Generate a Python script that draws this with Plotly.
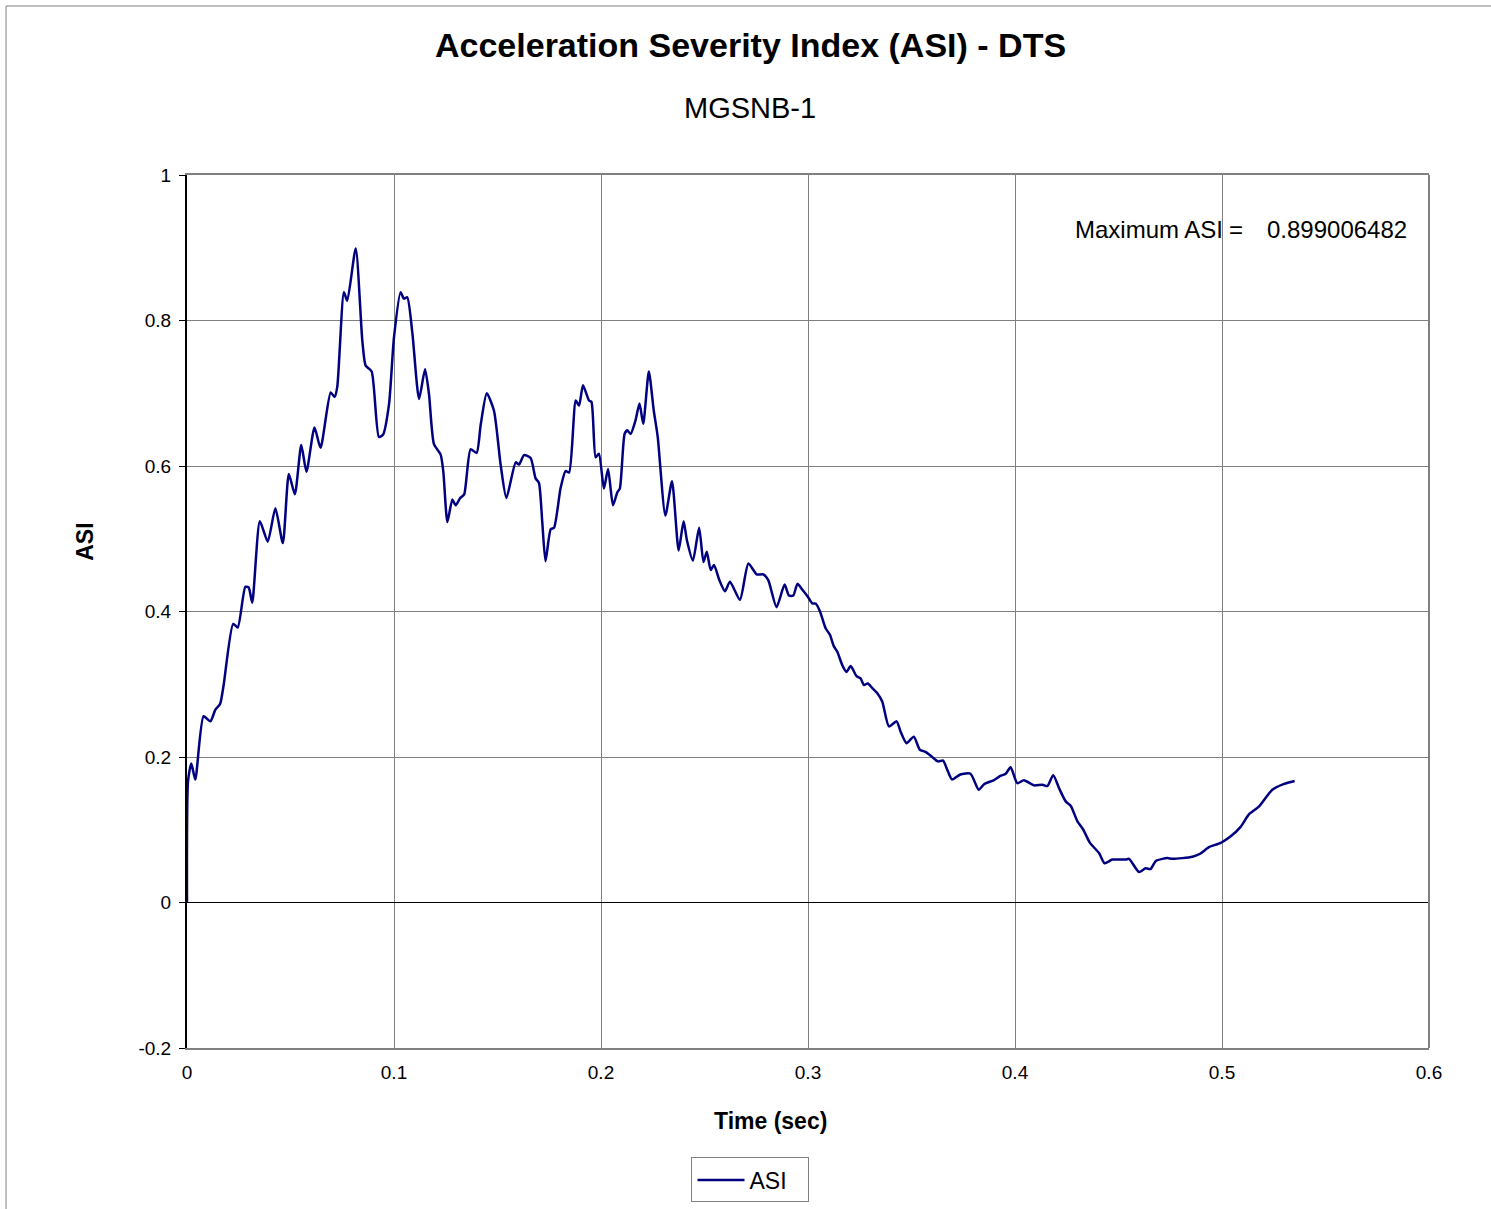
import plotly.graph_objects as go

# time (sec)
time_s = [0, 0.0005, 0.0021, 0.004, 0.008, 0.0113, 0.0137, 0.016, 0.0177, 0.0223, 0.0245,
          0.0282, 0.0298, 0.0315, 0.0352, 0.039, 0.0427, 0.0463, 0.0492, 0.0521, 0.0552,
          0.0577, 0.0616, 0.0645, 0.0694, 0.0713, 0.0726, 0.0758, 0.0774, 0.0815, 0.0847,
          0.0863, 0.0892, 0.0927, 0.0947, 0.0976, 0.1, 0.1032, 0.1048, 0.1064, 0.1089,
          0.1121, 0.115, 0.1169, 0.1193, 0.1225, 0.1238, 0.1258, 0.1282, 0.1298, 0.132,
          0.1339, 0.137, 0.1399, 0.1419, 0.1448, 0.1483, 0.1515, 0.1543, 0.1588, 0.1604,
          0.1628, 0.166, 0.1684, 0.17, 0.1716, 0.1732, 0.1757, 0.1773, 0.1805, 0.1829,
          0.1846, 0.1878, 0.1894, 0.1913, 0.1942, 0.1954, 0.1974, 0.199, 0.2014, 0.2034,
          0.2058, 0.2079, 0.2091, 0.2114, 0.2127, 0.2143, 0.2167, 0.2186, 0.2204, 0.2231,
          0.2255, 0.2274, 0.2311, 0.2343, 0.2375, 0.2399, 0.2415, 0.2444, 0.2474, 0.2495,
          0.2511, 0.253, 0.2546, 0.2572, 0.2599, 0.2623, 0.2671, 0.2712, 0.2752, 0.2784,
          0.2808, 0.2848, 0.2887, 0.2908, 0.2929, 0.2949, 0.2973, 0.3, 0.3021, 0.3037,
          0.3058, 0.3085, 0.3106, 0.3125, 0.3141, 0.3166, 0.3186, 0.3206, 0.3235, 0.3254,
          0.327, 0.3289, 0.331, 0.3334, 0.3359, 0.3391, 0.3428, 0.3447, 0.3476, 0.3511,
          0.354, 0.3568, 0.36, 0.3627, 0.3653, 0.3672, 0.3696, 0.3736, 0.3785, 0.3825,
          0.3852, 0.3897, 0.3929, 0.3955, 0.3979, 0.4011, 0.4043, 0.4092, 0.4132, 0.4156,
          0.4185, 0.4213, 0.4245, 0.4269, 0.4301, 0.433, 0.4362, 0.4406, 0.4433, 0.447,
          0.4535, 0.4551, 0.4599, 0.4631, 0.4655, 0.468, 0.4712, 0.4736, 0.476, 0.4808,
          0.4857, 0.4894, 0.4937, 0.4994, 0.5042, 0.509, 0.513, 0.5179, 0.5243, 0.53, 0.5351]

asi = [0, 0.167, 0.191, 0.169, 0.256, 0.249, 0.265, 0.273, 0.299, 0.383, 0.378,
       0.434, 0.433, 0.412, 0.524, 0.496, 0.542, 0.494, 0.589, 0.561, 0.629,
       0.592, 0.653, 0.625, 0.701, 0.695, 0.709, 0.839, 0.827, 0.899, 0.772,
       0.738, 0.730, 0.640, 0.643, 0.685, 0.777, 0.839, 0.830, 0.832, 0.782,
       0.692, 0.733, 0.699, 0.630, 0.616, 0.593, 0.523, 0.554, 0.546, 0.556,
       0.561, 0.623, 0.618, 0.657, 0.700, 0.676, 0.602, 0.556, 0.605, 0.602,
       0.615, 0.611, 0.583, 0.577, 0.524, 0.469, 0.513, 0.515, 0.570, 0.593,
       0.591, 0.690, 0.683, 0.711, 0.690, 0.688, 0.612, 0.617, 0.569, 0.596,
       0.546, 0.564, 0.569, 0.644, 0.649, 0.644, 0.663, 0.686, 0.658, 0.730,
       0.676, 0.640, 0.532, 0.579, 0.484, 0.524, 0.498, 0.470, 0.515, 0.468,
       0.482, 0.457, 0.464, 0.443, 0.428, 0.441, 0.416, 0.466, 0.451, 0.451,
       0.443, 0.406, 0.437, 0.422, 0.422, 0.438, 0.430, 0.420, 0.411, 0.411,
       0.400, 0.377, 0.368, 0.352, 0.345, 0.326, 0.317, 0.325, 0.311, 0.308,
       0.299, 0.301, 0.295, 0.288, 0.276, 0.242, 0.249, 0.235, 0.219, 0.228,
       0.210, 0.207, 0.200, 0.194, 0.195, 0.183, 0.169, 0.176, 0.177, 0.155,
       0.163, 0.168, 0.174, 0.177, 0.186, 0.164, 0.168, 0.161, 0.162, 0.160,
       0.175, 0.157, 0.139, 0.133, 0.112, 0.100, 0.082, 0.068, 0.054, 0.059,
       0.059, 0.060, 0.042, 0.047, 0.046, 0.057, 0.060, 0.061, 0.060, 0.061,
       0.063, 0.067, 0.076, 0.082, 0.091, 0.104, 0.121, 0.132, 0.155, 0.163, 0.167]

x_ticks = [0, 0.1, 0.2, 0.3, 0.4, 0.5, 0.6]
x_labels = ["0", "0.1", "0.2", "0.3", "0.4", "0.5", "0.6"]
y_ticks = [-0.2, 0, 0.2, 0.4, 0.6, 0.8, 1]
y_labels = ["-0.2", "0", "0.2", "0.4", "0.6", "0.8", "1"]

FONT = "Liberation Sans, Arial, sans-serif"

fig = go.Figure()
fig.add_trace(go.Scatter(x=time_s, y=asi, mode="lines", name="ASI",
                         line=dict(color="#000080", width=2.5, shape="spline", smoothing=0.6)))

fig.update_layout(
    width=1491, height=1209,
    margin=dict(l=187, r=62, t=175, b=161),
    paper_bgcolor="white", plot_bgcolor="white",
    font=dict(family=FONT, size=19, color="black"),
    showlegend=True,
    # legend placed against the page, so it does not push the plot margins
    legend=dict(orientation="h", x=0.4537, xanchor="center",
                yref="container", y=0.024, yanchor="middle",
                bordercolor="#808080", borderwidth=1, font=dict(size=23),
                itemwidth=47, entrywidth=54),
)

fig.update_xaxes(range=[0, 0.6], tickvals=x_ticks, ticktext=x_labels,
                 showgrid=True, gridcolor="#808080", gridwidth=1,
                 showline=True, linecolor="#808080", linewidth=2, mirror=True,
                 zeroline=False, ticks="", ticklabelstandoff=6)
fig.update_yaxes(range=[-0.2, 1], tickvals=y_ticks, ticktext=y_labels,
                 showgrid=True, gridcolor="#808080", gridwidth=1,
                 showline=True, linecolor="black", linewidth=2,
                 zeroline=True, zerolinecolor="black", zerolinewidth=1,
                 ticks="outside", ticklen=6, tickcolor="black", ticklabelstandoff=4)

# right border of the plot area
fig.add_shape(type="line", xref="paper", yref="paper", x0=1, x1=1, y0=0, y1=1,
              line=dict(color="#808080", width=2))
# outer chart frame (left and top edges visible)
fig.add_shape(type="rect", xref="paper", yref="paper", x0=-0.1457, x1=1.3, y0=-0.4, y1=1.1936,
              line=dict(color="#808080", width=1), layer="below")

def note(text, x, y, size, xanchor="center", angle=0):
    fig.add_annotation(text=text, xref="paper", yref="paper", x=x, y=y,
                       xanchor=xanchor, yanchor="middle", textangle=angle,
                       showarrow=False, font=dict(size=size))

note("<b>Acceleration Severity Index (ASI) - DTS</b>", 0.454, 1.149, 34)
note("MGSNB-1", 0.453, 1.077, 29)
note("<b>Time (sec)</b>", 0.47, -0.0836, 23)
note("<b>ASI</b>", -0.082, 0.58, 23, angle=-90)
note("Maximum ASI", 0.713, 0.938, 24, xanchor="left")
note("=", 0.8445, 0.938, 24)
note("0.899006482", 0.868, 0.938, 24, xanchor="left")

# drop the default page margin so the 1491x1209 figure fills the window exactly
fig.write_html("out.html", config={"displayModeBar": False},
               post_script="document.body.style.margin='0';")
